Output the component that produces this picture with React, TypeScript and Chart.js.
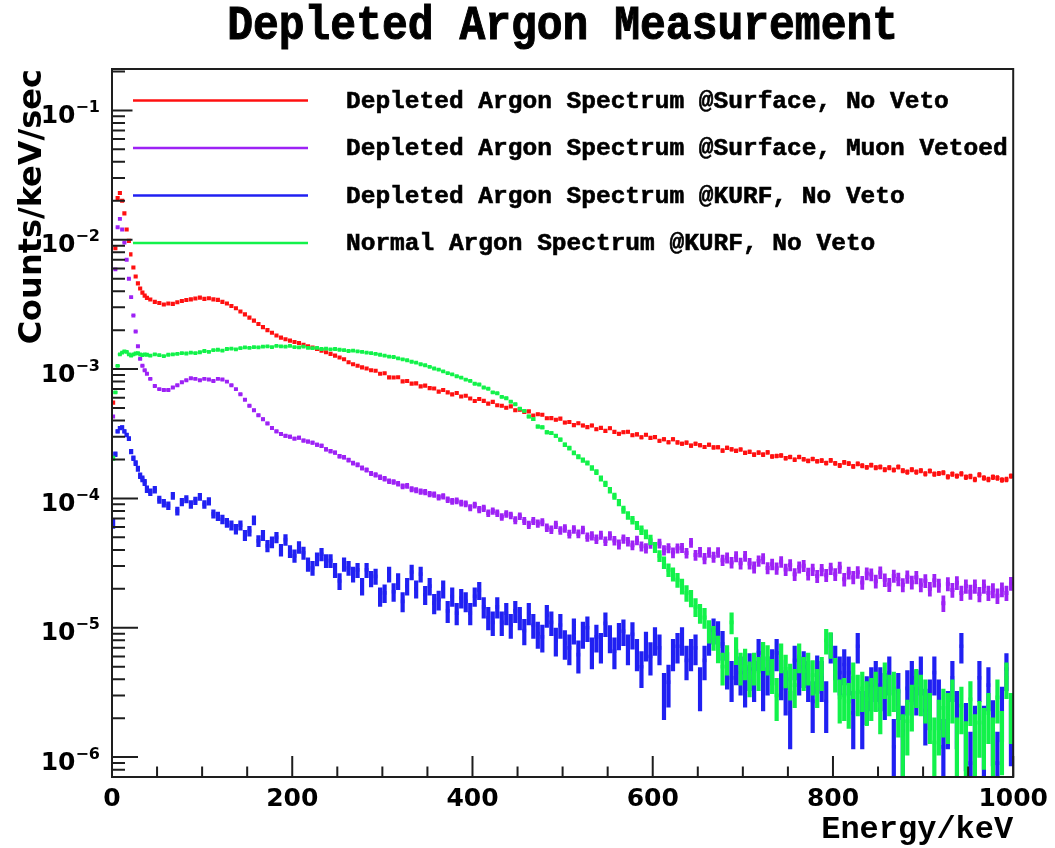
import React, { useEffect, useRef } from "react";
import { Chart, registerables } from "chart.js";

Chart.register(...registerables);

// ---------------- text ----------------
const TITLE = "Depleted Argon Measurement";
const X_TITLE = "Energy/keV";
const Y_TITLE = "Counts/keV/sec";

const SERIES_LABELS = [
  "Depleted Argon Spectrum @Surface, No Veto",
  "Depleted Argon Spectrum @Surface, Muon Vetoed",
  "Depleted Argon Spectrum @KURF, No Veto",
  "Normal Argon Spectrum @KURF, No Veto",
];

// ---------------- x grid: bin centres in keV ----------------
// 2.5 keV bins below 40 keV, 5 keV bins from 40 to 1000 keV
const FINE_BIN_CENTERS = Array.from({ length: 16 }, (_, i) => 1.25 + 2.5 * i);
const COARSE_BIN_CENTERS = Array.from({ length: 192 }, (_, i) => 42.5 + 5 * i);
const ENERGY_KEV = [...FINE_BIN_CENTERS, ...COARSE_BIN_CENTERS];

// ---------------- series values (counts/keV/sec) ----------------
const DA_SURFACE_NO_VETO = [
  5.5e-4, 8.6e-3, 2.1e-2, 2.3e-2, 2.0e-2, 1.6e-2, 1.2e-2, 9.8e-3, 7.7e-3, 6.1e-3, 5.2e-3, 4.6e-3, 4.2e-3, 3.9e-3, 3.7e-3, 3.55e-3,
  3.45e-3, 3.31e-3, 3.24e-3, 3.16e-3, 3.21e-3, 3.19e-3, 3.29e-3, 3.36e-3, 3.42e-3, 3.46e-3,
  3.51e-3, 3.57e-3, 3.49e-3, 3.53e-3, 3.46e-3, 3.43e-3, 3.31e-3, 3.21e-3, 3.07e-3, 2.95e-3,
  2.79e-3, 2.65e-3, 2.50e-3, 2.37e-3, 2.23e-3, 2.11e-3, 2.00e-3, 1.91e-3, 1.82e-3, 1.75e-3,
  1.70e-3, 1.66e-3, 1.62e-3, 1.59e-3, 1.54e-3, 1.50e-3, 1.47e-3, 1.43e-3, 1.39e-3, 1.35e-3,
  1.31e-3, 1.27e-3, 1.23e-3, 1.19e-3, 1.13e-3, 1.09e-3, 1.06e-3, 1.03e-3, 1.01e-3, 9.8e-4,
  9.70e-4, 9.21e-4, 9.28e-4, 8.62e-4, 8.60e-4, 8.65e-4, 8.04e-4, 8.08e-4, 7.72e-4, 7.75e-4,
  7.35e-4, 7.45e-4, 7.13e-4, 7.07e-4, 6.69e-4, 6.89e-4, 6.60e-4, 6.37e-4, 6.54e-4, 6.14e-4,
  6.22e-4, 5.92e-4, 5.67e-4, 5.87e-4, 5.68e-4, 5.41e-4, 5.58e-4, 5.25e-4, 5.20e-4, 5.02e-4,
  5.15e-4, 4.80e-4, 4.85e-4, 4.67e-4, 4.71e-4, 4.38e-4, 4.48e-4, 4.44e-4, 4.17e-4, 4.18e-4,
  4.06e-4, 4.14e-4, 3.86e-4, 3.90e-4, 3.69e-4, 3.81e-4, 3.66e-4, 3.56e-4, 3.66e-4, 3.43e-4,
  3.51e-4, 3.33e-4, 3.49e-4, 3.27e-4, 3.16e-4, 3.25e-4, 3.28e-4, 3.08e-4, 3.13e-4, 2.97e-4,
  3.11e-4, 2.94e-4, 2.98e-4, 2.79e-4, 2.87e-4, 2.72e-4, 2.87e-4, 2.71e-4, 2.65e-4, 2.70e-4,
  2.56e-4, 2.65e-4, 2.58e-4, 2.50e-4, 2.60e-4, 2.48e-4, 2.49e-4, 2.34e-4, 2.46e-4, 2.40e-4,
  2.33e-4, 2.39e-4, 2.25e-4, 2.29e-4, 2.18e-4, 2.26e-4, 2.18e-4, 2.27e-4, 2.11e-4, 2.13e-4,
  2.15e-4, 2.05e-4, 2.09e-4, 1.99e-4, 2.09e-4, 2.01e-4, 1.95e-4, 2.02e-4, 1.94e-4, 1.96e-4,
  1.88e-4, 1.97e-4, 1.87e-4, 1.80e-4, 1.90e-4, 1.86e-4, 1.77e-4, 1.85e-4, 1.79e-4, 1.74e-4,
  1.81e-4, 1.73e-4, 1.75e-4, 1.67e-4, 1.73e-4, 1.66e-4, 1.75e-4, 1.64e-4, 1.60e-4, 1.67e-4,
  1.60e-4, 1.64e-4, 1.55e-4, 1.63e-4, 1.54e-4, 1.56e-4, 1.58e-4, 1.47e-4, 1.54e-4, 1.49e-4,
  1.55e-4, 1.46e-4, 1.48e-4, 1.40e-4, 1.52e-4, 1.44e-4, 1.40e-4, 1.46e-4, 1.44e-4, 1.39e-4,
  1.40e-4, 1.49e-4,
];

const DA_SURFACE_MUON_VETOED = [
  4.3e-4, 5.9e-3, 1.25e-2, 1.45e-2, 1.2e-2, 9.5e-3, 7.0e-3, 5.0e-3, 3.6e-3, 2.6e-3, 1.95e-3, 1.5e-3, 1.2e-3, 1.06e-3, 9.8e-4, 9.2e-4,
  8.4e-4, 7.4e-4, 7.0e-4, 6.9e-4, 6.9e-4, 7.2e-4, 7.5e-4, 7.9e-4, 8.2e-4, 8.5e-4,
  8.4e-4, 8.2e-4, 8.4e-4, 8.3e-4, 8.1e-4, 8.4e-4, 8.3e-4, 8.0e-4, 7.5e-4, 7.0e-4,
  6.4e-4, 5.8e-4, 5.2e-4, 4.8e-4, 4.4e-4, 4.1e-4, 3.8e-4, 3.5e-4, 3.3e-4, 3.15e-4,
  3.05e-4, 3.0e-4, 2.9e-4, 2.95e-4, 2.8e-4, 2.75e-4, 2.7e-4, 2.6e-4, 2.55e-4, 2.4e-4,
  2.32e-4, 2.26e-4, 2.12e-4, 2.08e-4, 1.98e-4, 1.88e-4, 1.82e-4, 1.72e-4, 1.66e-4, 1.56e-4,
  1.52e-4, 1.46e-4, 1.42e-4, 1.36e-4, 1.34e-4, 1.30e-4, 1.24e-4, 1.25e-4, 1.18e-4, 1.16e-4,
  1.13e-4, 1.12e-4, 1.08e-4, 1.07e-4, 1.02e-4, 1.04e-4, 9.8e-5, 9.5e-5, 9.6e-5, 9.2e-5,
  9.1e-5, 8.5e-5, 8.9e-5, 8.2e-5, 8.4e-5, 7.7e-5, 8.0e-5, 7.7e-5, 7.2e-5, 7.6e-5,
  7.4e-5, 6.8e-5, 7.3e-5, 6.7e-5, 6.25e-5, 6.7e-5, 6.4e-5, 6.55e-5, 5.95e-5, 5.75e-5,
  6.25e-5, 5.67e-5, 5.87e-5, 5.31e-5, 5.77e-5, 5.34e-5, 5.72e-5, 5.04e-5, 5.15e-5, 4.85e-5,
  5.2e-5, 4.68e-5, 5.15e-5, 4.72e-5, 4.42e-5, 4.87e-5, 4.65e-5, 4.35e-5, 4.74e-5, 4.27e-5,
  4.13e-5, 4.47e-5, 4.17e-5, 4.49e-5, 3.98e-5, 4.14e-5, 3.81e-5, 4.12e-5, 4.15e-5, 3.78e-5,
  4.55e-5, 3.65e-5, 3.86e-5, 3.44e-5, 3.83e-5, 3.53e-5, 3.83e-5, 3.33e-5, 3.48e-5, 3.2e-5,
  3.56e-5, 3.15e-5, 3.58e-5, 3.14e-5, 2.94e-5, 3.29e-5, 3.43e-5, 2.9e-5, 3.1e-5, 2.88e-5,
  3.24e-5, 2.82e-5, 3.06e-5, 2.59e-5, 2.94e-5, 3.02e-5, 2.62e-5, 2.82e-5, 2.51e-5, 2.81e-5,
  2.55e-5, 2.87e-5, 2.59e-5, 2.93e-5, 2.37e-5, 2.66e-5, 2.46e-5, 2.69e-5, 2.24e-5, 2.63e-5,
  2.58e-5, 2.29e-5, 2.68e-5, 2.35e-5, 2.16e-5, 2.52e-5, 2.38e-5, 2.15e-5, 2.48e-5, 2.25e-5,
  2.46e-5, 2.15e-5, 2.31e-5, 2.0e-5, 2.33e-5, 2.13e-5, 1.55e-5, 2.19e-5, 1.96e-5, 2.23e-5,
  1.86e-5, 2.1e-5, 1.9e-5, 2.1e-5, 1.82e-5, 2.1e-5, 1.86e-5, 1.95e-5, 1.77e-5, 1.98e-5,
  1.86e-5, 2.2e-5,
];

const DA_KURF_NO_VETO = [
  6.4e-5, 2.2e-4, 3.3e-4, 3.5e-4, 3.55e-4, 3.3e-4, 3.1e-4, 2.9e-4, 2.3e-4, 2.05e-4, 1.88e-4, 1.7e-4, 1.5e-4, 1.42e-4, 1.33e-4, 1.18e-4,
  1.12e-4, 1.17e-4, 9.8e-5, 9.2e-5, 8.8e-5, 1.05e-4, 8.0e-5, 9.4e-5, 9.9e-5, 9.0e-5,
  9.6e-5, 1.03e-4, 9.0e-5, 9.5e-5, 7.6e-5, 7.3e-5, 6.9e-5, 6.5e-5, 6.2e-5, 5.8e-5,
  6.2e-5, 5.2e-5, 5.6e-5, 6.8e-5, 4.7e-5, 5.2e-5, 4.3e-5, 4.6e-5, 5.0e-5, 4.0e-5,
  4.8e-5, 3.9e-5, 3.6e-5, 4.2e-5, 3.8e-5, 3.1e-5, 2.9e-5, 3.4e-5, 3.7e-5, 3.3e-5,
  3.3e-5, 2.8e-5, 2.3e-5, 3.1e-5, 2.9e-5, 2.6e-5, 2.8e-5, 2.1e-5, 2.8e-5, 2.4e-5,
  2.5e-5, 1.75e-5, 1.86e-5, 2.6e-5, 1.9e-5, 2.3e-5, 1.6e-5, 2.1e-5, 2.7e-5, 2.0e-5,
  2.6e-5, 1.8e-5, 2.1e-5, 1.55e-5, 1.65e-5, 2.0e-5, 1.35e-5, 1.75e-5, 1.3e-5, 1.7e-5,
  1.6e-5, 1.3e-5, 1.75e-5, 1.95e-5, 1.45e-5, 1.2e-5, 1.1e-5, 1.45e-5, 1.1e-5, 1.3e-5,
  1.05e-5, 1.35e-5, 1.2e-5, 9.5e-6, 1.3e-5, 1.05e-5, 9.0e-6, 8.5e-6, 1.25e-5, 1.1e-5,
  8.0e-6, 1.05e-5, 7.6e-6, 7.0e-6, 9.6e-6, 6.2e-6, 9.0e-6, 1.0e-5, 6.6e-6, 8.5e-6,
  7.2e-6, 1.08e-5, 8.4e-6, 6.6e-6, 8.8e-6, 9.4e-6, 7.0e-6, 8.9e-6, 6.4e-6, 5.0e-6,
  7.4e-6, 6.0e-6, 8.1e-6, 7.0e-6, 3.2e-6, 3.8e-6, 6.4e-6, 7.2e-6, 8.1e-6, 5.6e-6,
  6.4e-6, 7.0e-6, 3.6e-6, 5.6e-6, 8.1e-6, 9.6e-6, 9.1e-6, 7.5e-6, 4.9e-6, 4.1e-6,
  5.2e-6, 4.5e-6, 3.8e-6, 4.8e-6, 4.1e-6, 6.4e-6, 3.6e-6, 4.5e-6, 5.2e-6, 6.4e-6,
  4.2e-6, 3.4e-6, 2.2e-6, 5.6e-6, 4.5e-6, 5.0e-6, 4.1e-6, 2.7e-6, 4.6e-6, 4.1e-6,
  2.7e-6, 7.2e-6, 5.6e-6, 4.5e-6, 5.2e-6, 4.5e-6, 2.2e-6, 7.2e-6, 2.2e-6, 3.0e-6,
  3.6e-6, 4.1e-6, 3.6e-6, 3.2e-6, 4.5e-6, 1.2e-6, 3.2e-6, 1.6e-6, 3.4e-6, 4.1e-6,
  3.4e-6, 4.5e-6, 2.3e-6, 2.8e-6, 4.5e-6, 2.8e-6, 1.2e-6, 2.2e-6, 4.1e-6, 2.2e-6,
  7.2e-6, 1.7e-6, 0.9e-6, 1.6e-6, 4.1e-6, 1.6e-6, 3.6e-6, 1.8e-6, 0.9e-6, 2.4e-6,
  4.8e-6, 1.8e-6,
];

const NA_KURF_NO_VETO = [
  2.05e-4, 6.6e-4, 1.06e-3, 1.3e-3, 1.34e-3, 1.37e-3, 1.36e-3, 1.3e-3, 1.27e-3, 1.3e-3, 1.32e-3, 1.33e-3, 1.3e-3, 1.28e-3, 1.3e-3, 1.29e-3,
  1.27e-3, 1.30e-3, 1.28e-3, 1.26e-3, 1.29e-3, 1.30e-3, 1.31e-3, 1.33e-3, 1.32e-3, 1.34e-3,
  1.33e-3, 1.35e-3, 1.38e-3, 1.36e-3, 1.40e-3, 1.41e-3, 1.39e-3, 1.43e-3, 1.44e-3, 1.42e-3,
  1.45e-3, 1.47e-3, 1.46e-3, 1.48e-3, 1.47e-3, 1.49e-3, 1.50e-3, 1.48e-3, 1.51e-3, 1.50e-3,
  1.49e-3, 1.51e-3, 1.48e-3, 1.47e-3, 1.49e-3, 1.46e-3, 1.45e-3, 1.46e-3, 1.43e-3, 1.44e-3,
  1.42e-3, 1.43e-3, 1.41e-3, 1.40e-3, 1.38e-3, 1.39e-3, 1.37e-3, 1.36e-3, 1.34e-3, 1.33e-3,
  1.31e-3, 1.29e-3, 1.27e-3, 1.25e-3, 1.24e-3, 1.21e-3, 1.19e-3, 1.17e-3, 1.14e-3, 1.12e-3,
  1.09e-3, 1.07e-3, 1.04e-3, 1.01e-3, 9.9e-4, 9.6e-4, 9.3e-4, 9.1e-4, 8.8e-4, 8.6e-4,
  8.3e-4, 8.1e-4, 7.7e-4, 7.6e-4, 7.2e-4, 7.05e-4, 6.6e-4, 6.5e-4, 6.1e-4, 5.95e-4,
  5.6e-4, 5.35e-4, 4.95e-4, 4.75e-4, 4.3e-4, 4.1e-4, 3.6e-4, 3.55e-4, 3.25e-4, 3.2e-4,
  3.05e-4, 2.85e-4, 2.6e-4, 2.45e-4, 2.25e-4, 2.1e-4, 1.98e-4, 1.88e-4, 1.72e-4, 1.6e-4,
  1.43e-4, 1.3e-4, 1.16e-4, 1.04e-4, 9.3e-5, 8.2e-5, 7.4e-5, 6.8e-5, 6.2e-5, 5.7e-5,
  5.3e-5, 4.8e-5, 4.2e-5, 3.6e-5, 3.2e-5, 2.8e-5, 2.6e-5, 2.35e-5, 2.1e-5, 1.86e-5,
  1.7e-5, 1.45e-5, 1.3e-5, 1.2e-5, 9.5e-6, 8.5e-6, 7.0e-6, 5.0e-6, 5.8e-6, 1.1e-5,
  6.8e-6, 5.0e-6, 5.4e-6, 4.2e-6, 5.0e-6, 4.6e-6, 6.2e-6, 5.8e-6, 4.4e-6, 3.0e-6,
  6.0e-6, 4.8e-6, 4.0e-6, 3.6e-6, 6.0e-6, 4.6e-6, 5.0e-6, 4.3e-6, 3.6e-6, 4.6e-6,
  8.0e-6, 7.5e-6, 4.5e-6, 2.9e-6, 3.0e-6, 2.7e-6, 4.1e-6, 3.2e-6, 3.4e-6, 2.8e-6,
  3.0e-6, 3.4e-6, 2.5e-6, 4.1e-6, 3.2e-6, 3.4e-6, 2.4e-6, 1.4e-6, 1.9e-6, 2.6e-6,
  3.6e-6, 3.2e-6, 2.9e-6, 2.2e-6, 1.3e-6, 1.9e-6, 2.4e-6, 2.2e-6, 2.9e-6, 1.3e-6,
  2.5e-6, 1.2e-6, 2.8e-6, 1.4e-6, 1.85e-6, 1.6e-6, 2.2e-6, 1.3e-6, 2.9e-6, 1.5e-6,
  4.1e-6, 2.2e-6,
];

const SERIES_VALUES = [DA_SURFACE_NO_VETO, DA_SURFACE_MUON_VETOED, DA_KURF_NO_VETO, NA_KURF_NO_VETO];
// counts per unit rate of each spectrum (Poisson statistics, used for the error bars)
const SERIES_EXPOSURE = [3.0e6, 3.0e6, 2.0e6, 2.5e6];

// ---------------- axes ----------------
const X_MIN = 0;
const X_MAX = 1000;
const Y_MIN = 7.02e-7;
const Y_MAX = 0.2089;
const X_MAJOR_TICKS = [0, 200, 400, 600, 800, 1000];
const X_MINOR_STEP = 50;
const Y_MAJOR_TICKS = [1e-6, 1e-5, 1e-4, 1e-3, 1e-2, 1e-1];
const Y_TICK_BASE = "10";
const Y_TICK_EXPONENTS = ["\u22126", "\u22125", "\u22124", "\u22123", "\u22122", "\u22121"];

// ---------------- styles ----------------
const SERIES_COLORS = ["#ff1010", "#9d22f5", "#2020f2", "#12f24a"];
const SERIES_POINT_RADIUS = [2.9, 2.8, 2.6, 2.7];
const SERIES_ERR_WIDTH = [3.2, 3.8, 4.2, 4.2];
const DRAW_ORDER = [3, 2, 1, 0]; // later spectra drawn on top
const FRAME_COLOR = "#1e1e1e";
const MONO = '"Liberation Mono", "Courier New", monospace';
const SANS = '"DejaVu Sans", sans-serif';

const errorBarPlugin = {
  id: "poissonErrorBars",
  beforeDatasetDraw(chart: any, args: any) {
    const ds = chart.data.datasets[args.index];
    const { ctx, chartArea: a, scales } = chart;
    ctx.save();
    ctx.beginPath();
    ctx.rect(a.left, a.top, a.right - a.left, a.bottom - a.top);
    ctx.clip();
    ctx.strokeStyle = ds.borderColor;
    ctx.lineWidth = ds.errorWidth;
    ctx.beginPath();
    ds.data.forEach((p: any) => {
      const sigma = Math.sqrt(p.y / ds.exposure);
      const hi = p.y + sigma;
      const lo = Math.max(p.y - sigma, 1e-12);
      const px = scales.x.getPixelForValue(p.x);
      ctx.moveTo(px, scales.y.getPixelForValue(hi));
      ctx.lineTo(px, scales.y.getPixelForValue(lo));
    });
    ctx.stroke();
    ctx.restore();
  },
};

const decorPlugin = {
  id: "rootFrameLegend",
  afterDatasetsDraw(chart: any) {
    const { ctx, chartArea: a, scales } = chart;
    const xs = scales.x;
    const ys = scales.y;
    ctx.save();
    // inward ticks
    ctx.strokeStyle = FRAME_COLOR;
    ctx.lineWidth = 2;
    ctx.beginPath();
    for (let v = X_MIN; v <= X_MAX; v += X_MINOR_STEP) {
      const px = xs.getPixelForValue(v);
      const len = X_MAJOR_TICKS.includes(v) ? 21 : 10.5;
      ctx.moveTo(px, a.bottom);
      ctx.lineTo(px, a.bottom - len);
    }
    const e0 = Math.floor(Math.log10(Y_MIN));
    const e1 = Math.ceil(Math.log10(Y_MAX));
    for (let e = e0; e <= e1; e++) {
      for (let m = 1; m <= 9; m++) {
        const v = m * Math.pow(10, e);
        if (v < Y_MIN || v > Y_MAX) continue;
        const py = ys.getPixelForValue(v);
        const len = m === 1 ? 26 : 13;
        ctx.moveTo(a.left, py);
        ctx.lineTo(a.left + len, py);
      }
    }
    ctx.stroke();

    // y tick labels: 10 with a raised exponent
    ctx.fillStyle = "#000000";
    ctx.textAlign = "right";
    ctx.textBaseline = "alphabetic";
    Y_MAJOR_TICKS.forEach((v, i) => {
      const py = ys.getPixelForValue(v);
      const xr = a.left - 12;
      ctx.font = `bold 16px ${SANS}`;
      const expW = ctx.measureText(Y_TICK_EXPONENTS[i]).width;
      ctx.fillText(Y_TICK_EXPONENTS[i], xr, py + 1.5);
      ctx.font = `bold 25px ${SANS}`;
      ctx.fillText(Y_TICK_BASE, xr - expW, py + 12.5);
    });

    // legend (white box without border, as in ROOT)
    ctx.fillStyle = "#ffffff";
    ctx.fillRect(a.left + 20.5, a.top + 9, a.right - a.left - 26, 184);
    chart.data.datasets.forEach((ds: any, i: number) => {
      const y = a.top + 31.5 + i * 47.5;
      ctx.strokeStyle = ds.borderColor;
      ctx.lineWidth = 2.6;
      ctx.beginPath();
      ctx.moveTo(a.left + 21, y);
      ctx.lineTo(a.left + 196, y);
      ctx.stroke();
      ctx.fillStyle = "#000000";
      ctx.strokeStyle = "#000000";
      ctx.lineWidth = 0.6;
      ctx.font = `bold 24.5px ${MONO}`;
      ctx.textBaseline = "middle";
      ctx.textAlign = "left";
      ctx.fillText(ds.label, a.left + 234, y + 1);
      ctx.strokeText(ds.label, a.left + 234, y + 1);
    });

    // frame
    ctx.strokeStyle = FRAME_COLOR;
    ctx.lineWidth = 2;
    ctx.strokeRect(a.left, a.top, a.right - a.left, a.bottom - a.top);

    // title, centred over the frame
    ctx.save();
    ctx.translate((a.left + a.right) / 2, 27);
    ctx.scale(1, 1.12);
    ctx.font = `bold 43px ${MONO}`;
    ctx.textAlign = "center";
    ctx.textBaseline = "middle";
    ctx.fillStyle = "#000000";
    ctx.strokeStyle = "#000000";
    ctx.lineWidth = 0.9;
    ctx.fillText(TITLE, 0, 0);
    ctx.strokeText(TITLE, 0, 0);
    ctx.restore();

    ctx.restore();
  },
};

export default function App() {
  const canvasRef = useRef<HTMLCanvasElement | null>(null);

  useEffect(() => {
    const canvas = canvasRef.current;
    if (!canvas) return;

    const datasets = SERIES_VALUES.map((values, s) => ({
      label: SERIES_LABELS[s],
      data: ENERGY_KEV.map((x, i) => ({ x, y: values[i] })),
      borderColor: SERIES_COLORS[s],
      backgroundColor: SERIES_COLORS[s],
      pointBackgroundColor: SERIES_COLORS[s],
      pointStyle: "rect",
      pointRadius: SERIES_POINT_RADIUS[s],
      pointBorderWidth: 0,
      pointHoverRadius: 0,
      showLine: false,
      order: DRAW_ORDER[s],
      exposure: SERIES_EXPOSURE[s],
      errorWidth: SERIES_ERR_WIDTH[s],
    }));

    const chart = new Chart(canvas, {
      type: "scatter",
      data: { datasets } as any,
      plugins: [errorBarPlugin, decorPlugin],
      options: {
        responsive: false,
        animation: false,
        devicePixelRatio: 1,
        events: [],
        layout: { padding: { left: 0, right: 38, top: 69, bottom: 0 } },
        plugins: {
          legend: { display: false },
          tooltip: { enabled: false },
          title: { display: false },
        },
        scales: {
          x: {
            type: "linear",
            position: "bottom",
            min: X_MIN,
            max: X_MAX,
            grid: { display: false, drawTicks: false },
            border: { display: false },
            afterBuildTicks: (scale: any) => {
              scale.ticks = X_MAJOR_TICKS.map((v) => ({ value: v }));
            },
            afterFit: (scale: any) => {
              scale.height = 71;
            },
            ticks: {
              autoSkip: false,
              maxRotation: 0,
              padding: 7,
              color: "#000000",
              font: { family: SANS, weight: "bold", size: 25, lineHeight: 1.2 },
              callback: (v: any) => String(v),
            },
            title: {
              display: true,
              text: X_TITLE,
              align: "end",
              color: "#000000",
              font: { family: MONO, weight: "bold", size: 32, lineHeight: 1 },
              padding: { top: 0, bottom: 2 },
            },
          },
          y: {
            type: "logarithmic",
            position: "left",
            min: Y_MIN,
            max: Y_MAX,
            grid: { display: false, drawTicks: false },
            border: { display: false },
            afterBuildTicks: (scale: any) => {
              scale.ticks = Y_MAJOR_TICKS.map((v) => ({ value: v }));
            },
            afterFit: (scale: any) => {
              scale.width = 112;
            },
            ticks: { display: false },
            title: {
              display: true,
              text: Y_TITLE,
              align: "end",
              color: "#000000",
              font: { family: SANS, weight: "bold", size: 32, lineHeight: 1 },
              padding: { top: 17, bottom: 0 },
            },
          },
        },
      } as any,
    });

    return () => chart.destroy();
  }, []);

  return (
    <div style={{ position: "absolute", left: 0, top: 0, width: 1055, height: 848, background: "#ffffff" }}>
      <canvas ref={canvasRef} width={1055} height={848} style={{ display: "block", width: 1055, height: 848 }} />
    </div>
  );
}
